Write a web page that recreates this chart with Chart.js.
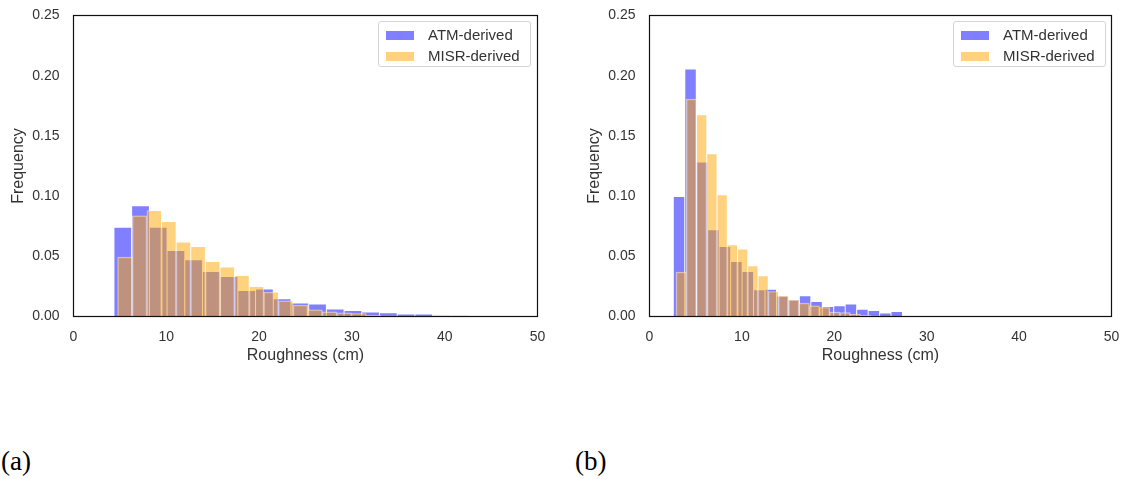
<!DOCTYPE html>
<html>
<head>
<meta charset="utf-8">
<script src="https://cdn.jsdelivr.net/npm/chart.js@4/dist/chart.umd.min.js"></script>
<style>
  html, body { margin:0; padding:0; background:#fff; width:1125px; height:479px; overflow:hidden; }
  body { position:relative; font-family:'Liberation Sans', Arial, sans-serif; }
  .wrap { position:absolute; top:0; height:370px; }
  .wrap canvas { position:absolute; left:0; top:0; }
  .legend { position:absolute; border:1px solid #d4d4d4; border-radius:3px; background:rgba(255,255,255,0.85); box-sizing:border-box; }
  .sw { position:absolute; width:28px; height:9px; }
  .lt { position:absolute; font-size:15px; line-height:16px; color:#333; white-space:nowrap; }
  .cap { position:absolute; font-family:'Liberation Serif','Times New Roman',serif; font-size:27px; line-height:27px; color:#000; }
</style>
</head>
<body>
<div class="wrap" id="wa" style="left:0;width:560px;"><canvas id="ca" width="560" height="370"></canvas></div>
<div class="wrap" id="wb" style="left:576px;width:549px;"><canvas id="cb" width="549" height="370"></canvas></div>
<div class="cap" style="left:1px;top:448px;">(a)</div>
<div class="cap" style="left:575px;top:448px;">(b)</div>
<script>
// ---- data (histogram densities) ----
const seriesNames = ['ATM-derived', 'MISR-derived'];
const xTicksMax = 50;
const yTicksMax = 0.25;

// panel (a)
const atmStartA = 4.36, atmWidthA = 1.9075;
const atmFreqA  = [0.0742, 0.0919, 0.0742, 0.0548, 0.0471, 0.0374, 0.0332, 0.0215, 0.0228, 0.0147,
                   0.0111, 0.0103, 0.0062, 0.0050, 0.0038, 0.0030, 0.0020, 0.0020, 0.0008, 0.0005];
const misrStartA = 4.76, misrWidthA = 1.575;
const misrFreqA  = [0.0493, 0.0836, 0.0880, 0.0789, 0.0618, 0.0581, 0.0457, 0.0410, 0.0341, 0.0249,
                    0.0203, 0.0130, 0.0095, 0.0056, 0.0038, 0.0030, 0.0025, 0.0010, 0.0005, 0.0003];

// panel (b)
const atmStartB = 2.58, atmWidthB = 1.24;
const atmFreqB  = [0.0997, 0.2055, 0.1282, 0.0720, 0.0581, 0.0457, 0.0374, 0.0222, 0.0227, 0.0169,
                   0.0139, 0.0172, 0.0125, 0.0083, 0.0089, 0.0103, 0.0061, 0.0050, 0.0028, 0.0042];
const misrStartB = 2.87, misrWidthB = 1.109;
const misrFreqB  = [0.0369, 0.1806, 0.1675, 0.1351, 0.1011, 0.0596, 0.0560, 0.0421, 0.0338, 0.0208,
                    0.0172, 0.0139, 0.0111, 0.0089, 0.0075, 0.0036, 0.0033, 0.0020, 0.0010, 0.0005];

// ---- styling ----
const BLUE = 'rgba(0,0,255,0.5)';
const ORANGE = 'rgba(255,165,0,0.5)';
const EDGE = 'rgba(255,255,255,0.55)';
const TXT = '#333333';
const FONT = "'Liberation Sans', Arial, sans-serif";

const framePlugin = {
  id: 'frame',
  afterDatasetsDraw(chart) {
    const { ctx, chartArea: { left, top, right, bottom } } = chart;
    ctx.save();
    ctx.strokeStyle = '#111';
    ctx.lineWidth = 1.2;
    ctx.strokeRect(left, top, right - left, bottom - top);
    ctx.restore();
  }
};

function toPoints(start, width, freq) {
  return freq.map((v, i) => ({ x: start + width * (i + 0.5), y: v }));
}

function makeChart(id, rightPad, atm, misr) {
  return new Chart(document.getElementById(id), {
    type: 'bar',
    data: {
      datasets: [
        { label: seriesNames[0], data: toPoints(atm[0], atm[1], atm[2]), backgroundColor: BLUE,
          borderColor: EDGE, borderWidth: 0.8, order: 2, stack: 'h' },
        { label: seriesNames[1], data: toPoints(misr[0], misr[1], misr[2]), backgroundColor: ORANGE,
          borderColor: EDGE, borderWidth: 0.8, order: 1, stack: 'h' }
      ]
    },
    options: {
      responsive: false,
      animation: false,
      devicePixelRatio: 1,
      barThickness: 'flex',
      categoryPercentage: 1,
      barPercentage: 1,
      layout: { padding: { left: 0, top: 15.5, right: rightPad, bottom: 0 } },
      plugins: { legend: { display: false }, tooltip: { enabled: false } },
      scales: {
        x: {
          type: 'linear', min: 0, max: xTicksMax, offset: false, stacked: true,
          grid: { display: false, drawTicks: false },
          border: { display: false },
          ticks: { stepSize: 10, maxRotation: 0, padding: 12, color: TXT, font: { family: FONT, size: 14 } },
          title: { display: true, text: 'Roughness (cm)', color: TXT, font: { family: FONT, size: 16 }, padding: { top: 0, bottom: 5 } },
          afterFit(s) { s.height = 53.5; s.paddingLeft = 0; s.paddingRight = 0; }
        },
        y: {
          type: 'linear', min: 0, max: yTicksMax, stacked: false,
          grid: { display: false, drawTicks: false },
          border: { display: false },
          ticks: { stepSize: 0.05, padding: 14, color: TXT, font: { family: FONT, size: 14 },
                   callback: v => Number(v).toFixed(2) },
          title: { display: true, text: 'Frequency', color: TXT, font: { family: FONT, size: 16 }, padding: { top: 8.5, bottom: 0 } },
          afterFit(s) { s.width = 73.5; s.paddingTop = 0; s.paddingBottom = 0; }
        }
      }
    },
    plugins: [framePlugin]
  });
}

makeChart('ca', 22.5, [atmStartA, atmWidthA, atmFreqA], [misrStartA, misrWidthA, misrFreqA]);
makeChart('cb', 13.5, [atmStartB, atmWidthB, atmFreqB], [misrStartB, misrWidthB, misrFreqB]);

// ---- legends (HTML, inside the upper-right of each plot) ----
function addLegend(wrapId, left) {
  const box = document.createElement('div');
  box.className = 'legend';
  box.style.left = left + 'px';
  box.style.top = '21px';
  box.style.width = '153px';
  box.style.height = '46px';
  const colors = [BLUE, ORANGE];
  seriesNames.forEach((name, i) => {
    const sw = document.createElement('div');
    sw.className = 'sw';
    sw.style.left = '7px';
    sw.style.top = (9 + i * 21) + 'px';
    sw.style.background = colors[i];
    box.appendChild(sw);
    const t = document.createElement('div');
    t.className = 'lt';
    t.style.left = '49px';
    t.style.top = (5 + i * 21) + 'px';
    t.textContent = name;
    box.appendChild(t);
  });
  document.getElementById(wrapId).appendChild(box);
}
addLegend('wa', 378);
addLegend('wb', 377);
</script>
</body>
</html>
